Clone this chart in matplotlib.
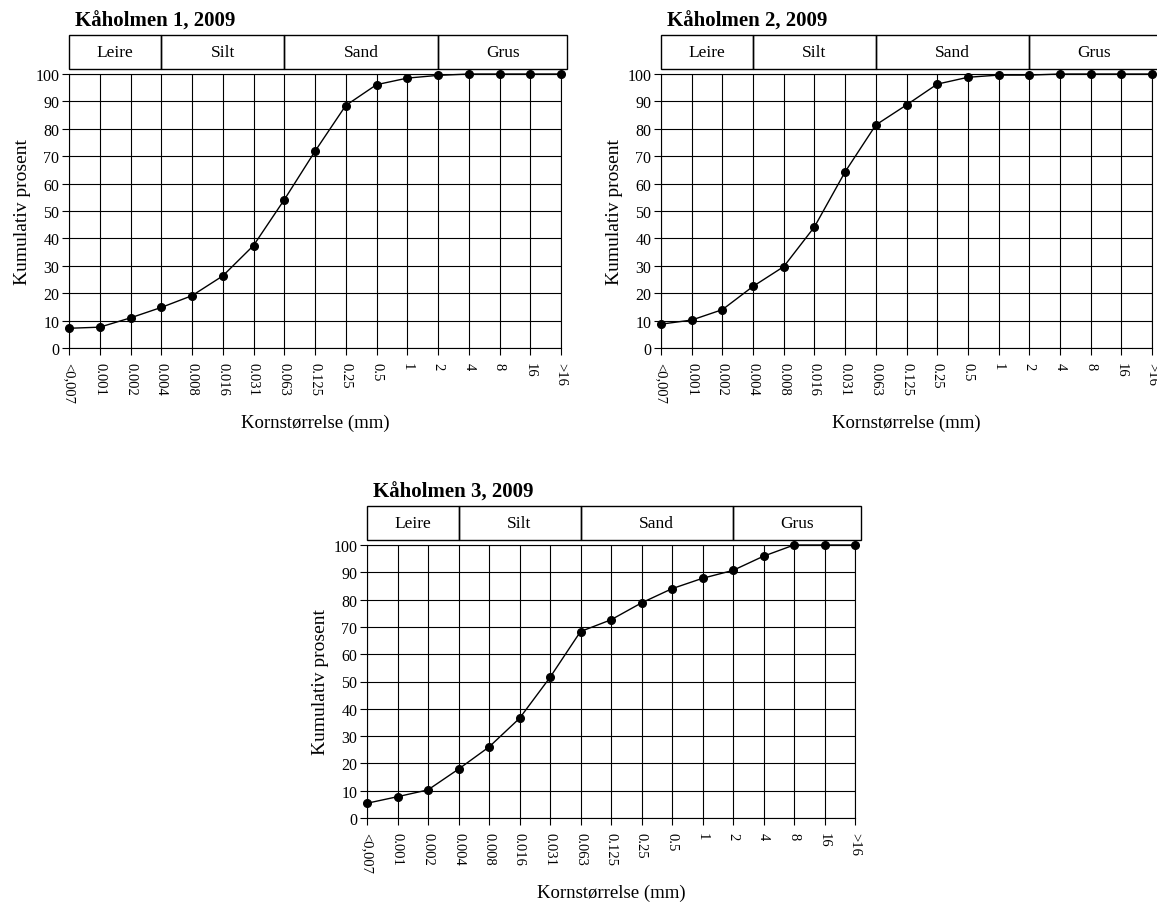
import matplotlib
matplotlib.use("Agg")
import matplotlib.pyplot as plt
from matplotlib.patches import Rectangle

plt.rcParams["font.family"] = ["Liberation Serif", "DejaVu Serif"]

# grain size classes (mm)
sizes = ["<0,007", "0.001", "0.002", "0.004", "0.008", "0.016", "0.031", "0.063",
         "0.125", "0.25", "0.5", "1", "2", "4", "8", "16", ">16"]

# cumulative percent
kaholmen1 = [7.2, 7.6, 11.0, 14.8, 19.1, 26.3, 37.4, 54.1, 71.8, 88.5, 96.1, 98.5, 99.5,
             100, 100, 100, 100]
kaholmen2 = [8.7, 10.2, 14.0, 22.5, 29.7, 44.2, 64.3, 81.4, 88.7, 96.3, 98.8, 99.6, 99.6,
             100, 100, 100, 100]
kaholmen3 = [5.4, 7.8, 10.3, 17.9, 26.0, 36.5, 51.5, 68.3, 72.6, 78.8, 84.0, 87.8, 90.7,
             95.9, 100, 100, 100]

titles = ["Kåholmen 1, 2009", "Kåholmen 2, 2009", "Kåholmen 3, 2009"]

# sediment classes: name, start index, end index on the category axis
classes = ["Leire", "Silt", "Sand", "Grus"]
class_edges = [0, 3, 7, 12, 16.2]

W, H = 1157, 903
fig = plt.figure(figsize=(W / 100, H / 100), dpi=100)


def px_axes(left, top, right, bottom):
	return fig.add_axes([left / W, 1 - bottom / H, (right - left) / W, (bottom - top) / H])


def panel(ax, values, title):
	x = list(range(len(sizes)))
	ax.plot(x, values, color="black", lw=1.0, marker="o", ms=5.5, zorder=3, clip_on=False)
	ax.set_xlim(0, len(sizes) - 1)
	ax.set_ylim(0, 100)
	ax.set_xticks(x)
	ax.set_xticklabels(sizes, rotation=270, va="top", ha="center", fontsize=10.5)
	ax.set_yticks(range(0, 101, 10))
	ax.tick_params(axis="y", labelsize=11.5, length=5, width=0.8, direction="out", pad=2)
	ax.tick_params(axis="x", length=5, width=0.8, direction="out", pad=5)
	ax.grid(True, color="black", lw=0.8)
	ax.set_axisbelow(True)
	for s in ax.spines.values():
		s.set_linewidth(0.8)
	ax.set_ylabel("Kumulativ prosent", fontsize=14, labelpad=3)
	ax.set_xlabel("Kornstørrelse (mm)", fontsize=13.5, labelpad=8)

	# header boxes with sediment classes
	tr = ax.get_xaxis_transform()
	for i, name in enumerate(classes):
		x0, x1 = class_edges[i], class_edges[i + 1]
		ax.add_patch(Rectangle((x0, 1.018), x1 - x0, 0.124, transform=tr, fill=False,
		                       ec="black", lw=1.0, clip_on=False))
		ax.text((x0 + x1) / 2, 1.08, name, transform=tr, ha="center", va="center", fontsize=12.5)
	ax.text(0.2, 1.195, title, transform=tr, ha="left", va="center", fontsize=15,
	        fontweight="bold")


ax1 = px_axes(69, 75, 561, 349)
ax2 = px_axes(661, 75, 1152, 349)
ax3 = px_axes(367, 546, 855, 819)

panel(ax1, kaholmen1, titles[0])
panel(ax2, kaholmen2, titles[1])
panel(ax3, kaholmen3, titles[2])

fig.savefig("out.png", dpi=100)
